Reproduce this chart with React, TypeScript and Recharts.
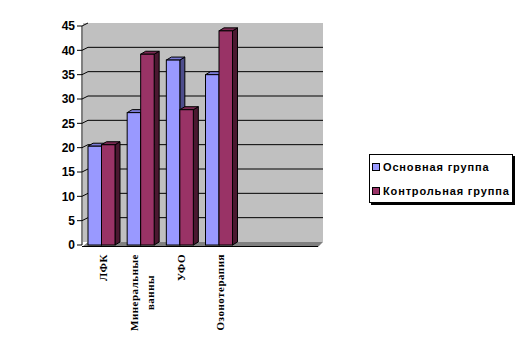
import React from 'react';
import { BarChart, Bar, XAxis, YAxis, CartesianGrid, Legend, ReferenceArea } from 'recharts';

const categories = ['ЛФК', 'Минеральные\nванны', 'УФО', 'Озонотерапия', '', ''];
const seriesNames = ['Основная группа', 'Контрольная группа'];
const mainGroup: (number | null)[] = [20.3, 27.2, 38, 35, null, null];
const controlGroup: (number | null)[] = [20.6, 39.2, 27.8, 44, null, null];
const yTicks = [0, 5, 10, 15, 20, 25, 30, 35, 40, 45];

const COLORS = {
  main: { front: '#9999FF', top: '#7B7BD6', side: '#4D4D8C' },
  control: { front: '#993366', top: '#7A2952', side: '#4A1830' },
};

const data = categories.map((c, i) => ({
  name: c,
  main: mainGroup[i],
  control: controlGroup[i],
}));

const DX = 5;
const DY = 3;
const WDX = 6;
const WDY = 3;

const LABEL_SIZE = 11;
const LABEL_SPACING = 0.5;
const LABEL_FONT = `bold ${LABEL_SIZE}px "Liberation Serif"`;

function measure(text: string): number {
  const fallback = text.length * 7;
  if (typeof document === 'undefined') return fallback;
  const c = document.createElement('canvas');
  const ctx = c.getContext('2d');
  if (!ctx) return fallback;
  ctx.font = LABEL_FONT;
  return ctx.measureText(text).width + LABEL_SPACING * text.length;
}

const make3DBar = (colors: { front: string; top: string; side: string }) => (props: any) => {
  const { x, y, width, height } = props;
  if (!height || height <= 0 || x == null) return <g />;
  const x2 = x + width;
  const y2 = y + height;
  return (
    <g>
      <polygon
        points={`${x2},${y} ${x2 + DX},${y - DY} ${x2 + DX},${y2 - DY} ${x2},${y2}`}
        fill={colors.side}
        stroke="#000"
        strokeWidth={1}
        strokeLinejoin="round"
      />
      <polygon
        points={`${x},${y} ${x + DX},${y - DY} ${x2 + DX},${y - DY} ${x2},${y}`}
        fill={colors.top}
        stroke="#000"
        strokeWidth={1}
        strokeLinejoin="round"
      />
      <rect x={x} y={y} width={width} height={height} fill={colors.front} stroke="#000" strokeWidth={1} />
    </g>
  );
};

const WallShape = (props: any) => {
  const { x, y, width, height } = props;
  const bottom = y + height;
  const right = x + width;
  return (
    <g>
      <rect x={x + 1} y={y - WDY} width={width + WDX - 1} height={height} fill="#C0C0C0" />
      <polygon
        points={`${x},${bottom + 2} ${right + 1},${bottom + 2} ${right + WDX},${bottom - WDY} ${x + WDX},${bottom - WDY}`}
        fill="#808080"
      />
      <line x1={x} y1={bottom + 1.5} x2={right + 1} y2={bottom + 1.5} stroke="#000" strokeWidth={1} />
    </g>
  );
};

const GridLine = (props: any) => {
  const { x1, x2, y1 } = props;
  if (y1 == null) return <g />;
  if (y1 > 240) return <g />;
  if (y1 < 30) {
    return <path d={`M${x1},${y1} L${x1 + WDX},${y1 - WDY}`} stroke="#000" strokeWidth={1} fill="none" />;
  }
  return (
    <path
      d={`M${x1},${y1} L${x1 + WDX},${y1 - WDY} L${x2 + WDX},${y1 - WDY}`}
      stroke="#000"
      strokeWidth={1}
      fill="none"
    />
  );
};

const XTick = (props: any) => {
  const { x, y, payload } = props;
  const value: string = payload && payload.value ? String(payload.value) : '';
  if (!value) return <g />;
  const lines = value.split('\n');
  const top = y + 9;
  const style = {
    fontFamily: '"Liberation Serif", "Times New Roman", serif',
    fontWeight: 700,
    fontSize: LABEL_SIZE,
    letterSpacing: LABEL_SPACING,
  } as const;
  if (lines.length === 1) {
    return (
      <text transform={`translate(${x + 5},${top}) rotate(-90)`} textAnchor="end" fill="#000" style={style}>
        {lines[0]}
      </text>
    );
  }
  const len1 = measure(lines[0]);
  return (
    <g>
      <text transform={`translate(${x - 3},${top}) rotate(-90)`} textAnchor="end" fill="#000" style={style}>
        {lines[0]}
      </text>
      <text
        transform={`translate(${x + 13},${top + len1 / 2}) rotate(-90)`}
        textAnchor="middle"
        fill="#000"
        style={style}
      >
        {lines[1]}
      </text>
    </g>
  );
};

const LegendContent = () => {
  const items = [
    { name: seriesNames[0], color: COLORS.main.front },
    { name: seriesNames[1], color: COLORS.control.front },
  ];
  return (
    <div style={{ position: 'relative', width: 144, height: 49 }}>
      <div
        style={{
          position: 'absolute',
          left: 2,
          top: 2,
          width: 144,
          height: 49,
          background: '#000',
        }}
      />
      <div
        style={{
          position: 'absolute',
          left: 0,
          top: 0,
          width: 142,
          height: 47,
          background: '#fff',
          border: '1px solid #000',
        }}
      >
        {items.map((it, i) => (
          <div
            key={it.name}
            style={{
              position: 'absolute',
              left: 2,
              top: 5 + i * 24,
              display: 'flex',
              alignItems: 'center',
              whiteSpace: 'nowrap',
            }}
          >
            <span
              style={{
                display: 'inline-block',
                width: 6,
                height: 6,
                background: it.color,
                border: '1px solid #000',
                marginRight: 3,
              }}
            />
            <span
              style={{
                fontFamily: '"Liberation Sans", Arial, sans-serif',
                fontWeight: 700,
                fontSize: 11,
                letterSpacing: 0.85,
                lineHeight: '14px',
                color: '#000',
              }}
            >
              {it.name}
            </span>
          </div>
        ))}
      </div>
    </div>
  );
};

export default function App() {
  return (
    <div style={{ position: 'absolute', left: 0, top: 0, width: 526, height: 351, background: '#fff' }}>
      <BarChart
        width={526}
        height={351}
        data={data}
        margin={{ top: 26, right: 209, bottom: 6, left: 0 }}
        barGap={0}
        barSize={13.5}
      >
        <ReferenceArea y1={0} y2={45} shape={WallShape} ifOverflow="visible" zIndex={-200} />
        <CartesianGrid vertical={false} horizontal={GridLine as any} />
        <XAxis
          dataKey="name"
          axisLine={false}
          tickLine={false}
          tickSize={0}
          tickMargin={0}
          height={100}
          interval={0}
          tick={<XTick />}
        />
        <YAxis
          domain={[0, 45]}
          ticks={yTicks}
          width={82}
          axisLine={{ stroke: '#000', strokeWidth: 1 }}
          tickLine={{ stroke: '#000', strokeWidth: 1 }}
          tickSize={5}
          tickMargin={2}
          interval={0}
          tick={{ fill: '#000', fontSize: 12, fontWeight: 700, fontFamily: '"Liberation Sans", Arial, sans-serif' }}
        />
        <Legend
          layout="vertical"
          align="center"
          verticalAlign="middle"
          wrapperStyle={{ left: 369, top: 154, width: 146, height: 51 }}
          content={<LegendContent />}
        />
        <Bar
          dataKey="main"
          name={seriesNames[0]}
          fill={COLORS.main.front}
          shape={make3DBar(COLORS.main)}
          isAnimationActive={false}
        />
        <Bar
          dataKey="control"
          name={seriesNames[1]}
          fill={COLORS.control.front}
          shape={make3DBar(COLORS.control)}
          isAnimationActive={false}
        />
      </BarChart>
    </div>
  );
}
